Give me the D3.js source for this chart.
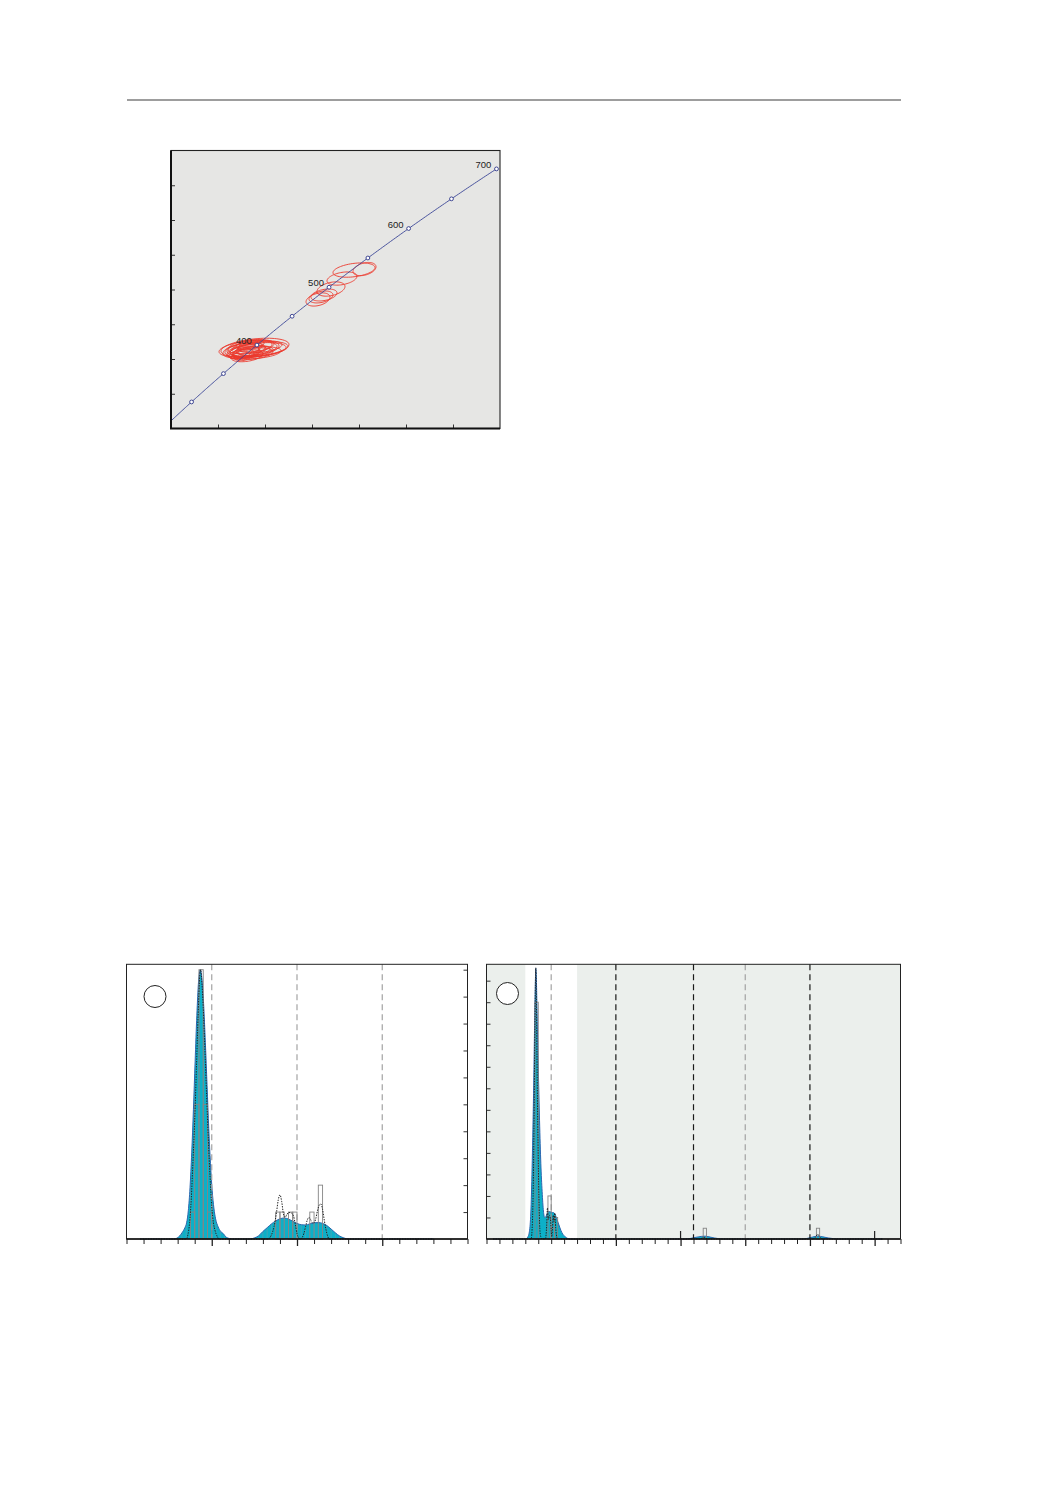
<!DOCTYPE html>
<html><head><meta charset="utf-8">
<script src="https://cdn.jsdelivr.net/npm/d3@7"></script>
<style>body{margin:0;background:#fff}svg{display:block}</style>
</head><body>
<svg id="c" width="1052" height="1485"></svg>
<script>
// ---------- Concordia data ----------
const concordiaMarkerAges = [300, 350, 400, 450, 500, 550, 600, 650, 700];
const concordiaLabelAges = [400, 500, 600, 700];
const concordiaXTicks = [0.4, 0.5, 0.6, 0.7, 0.8, 0.9];
const concordiaYTicks = [0.05, 0.06, 0.07, 0.08, 0.09, 0.10, 0.11];
// 207Pb/235U, 206Pb/238U, half-axes, correlation
const ellX  = [0.4787,0.4681,0.4723,0.4574,0.4638,0.4532,0.4809,0.4894,0.4468,0.4617,0.4745,0.4851,0.4553,0.4681,0.4936,0.4596,0.4660,0.4766,0.4489,0.4702,0.4830,0.4617,
               0.6894,0.7117,0.6638,0.6404,0.6255,0.6128,0.6191];
const ellY  = [0.06323,0.06351,0.06294,0.06265,0.06237,0.06208,0.06380,0.06351,0.06179,0.06323,0.06208,0.06265,0.06122,0.06409,0.06294,0.06179,0.06294,0.06237,0.06237,0.06151,0.06179,0.06093,
               0.08559,0.08588,0.08315,0.08014,0.07842,0.07713,0.07785];
const ellSX = [0.0723,0.0468,0.0532,0.0426,0.0383,0.0340,0.0383,0.0468,0.0255,0.0319,0.0426,0.0596,0.0213,0.0298,0.0553,0.0298,0.0638,0.0340,0.0383,0.0468,0.0511,0.0340,
               0.0447,0.0245,0.0319,0.0298,0.0277,0.0255,0.0255];
const ellSY = [0.00275,0.00206,0.00206,0.00206,0.00172,0.00206,0.00172,0.00172,0.00172,0.00172,0.00172,0.00206,0.00172,0.00138,0.00206,0.00172,0.00241,0.00138,0.00206,0.00172,0.00172,0.00172,
               0.00206,0.0019,0.0019,0.00206,0.00172,0.0019,0.00172];
const ellRho = 0.35;

// ---------- Left density panel (300–700 Ma) ----------
const leftXTicks = [300,320,340,360,380,400,420,440,460,480,500,520,540,560,580,600,620,640,660,680,700];
const leftYTicks = [1,2,3,4,5,6,7,8,9,10];
const leftDashed = [400, 500, 600];
const leftKdeAge = [316,356.5,359.5,362.5,365.5,368.5,370.5,372.5,374.5,376.5,378.5,380.5,382.5,384.5,386.5,388.5,390.5,392.5,394.5,396.5,398.5,400.5,402.5,404.5,407.5,410.5,413.5,416.5,420.5,424.5,
                    445,450,455,460,465,470,475,480,485,490,495,500,505,510,515,520,525,530,535,540,545,550,555,560,660];
const leftKdeVal = [0,0,0.04,0.12,0.25,0.42,0.6,1.05,1.9,3.2,4.8,6.6,8.3,9.55,10,9.65,8.7,7.3,5.7,4.1,2.8,1.8,1.15,0.75,0.45,0.28,0.2,0.08,0.02,0,
                    0,0.04,0.12,0.28,0.42,0.56,0.67,0.75,0.78,0.74,0.66,0.58,0.53,0.52,0.56,0.6,0.61,0.58,0.5,0.37,0.23,0.11,0.04,0,0];
const leftPdpAge = [316,370,372,374,376,378,380,382,384,386,387,388,390,392,394,396,398,400,402,404,406,409,
                    466,470,473,476,478,480,482,484,486,488,490,492,494,496,498,500,502,504,506,508,510,512,514,516,518,520,522,524,526,528,530,532,534,536,538,660];
const leftPdpVal = [0,0,0.15,0.6,1.5,2.9,4.4,6.3,8.3,9.8,10,9.7,8.6,7.0,5.3,3.7,2.3,1.2,0.6,0.3,0.12,0,
                    0,0.15,0.45,1.0,1.45,1.64,1.4,0.95,0.8,0.9,0.98,0.98,0.95,0.85,0.55,0.2,0.04,0,0.05,0.2,0.45,0.7,0.8,0.72,0.6,0.6,0.75,1.05,1.25,1.3,1.1,0.7,0.35,0.1,0,0];
const leftBinStart = [375,380,385,390,395,475,480,490,495,515,525];
const leftBinCount = [1,5,10,5,1,1,1,1,1,1,2];
const leftBinWidth = 5;

// ---------- Right density panel (0–3200 Ma) ----------
const rightXTicks = d3.range(0, 3201, 100);
const rightMajorTicks = [1000, 1500, 2000, 2500, 3000];
const rightUpTicks = [1500, 3000];
const rightYTicks = [2,4,6,8,10,12,14,16,18,20,22,24];
const rightDashedGray = [500, 2000];
const rightDashedBlack = [1000, 1600, 2500];
const rightWindow = [300, 700];
const rightKdeAge = [50,300,320,335,345,355,365,372,378,381,385,390,400,410,420,430,440,450,460,470,480,490,500,510,520,530,545,560,575,590,605,620,640,
                     1540,1580,1620,1660,1690,1720,1760,1800,1830,2440,2480,2520,2560,2600,2640,2690,2720,3060];
const rightKdeVal = [0,0,0.2,1.0,3.2,8.0,14.4,20.0,24.0,25.14,24.4,21.6,16.0,11.0,7.0,4.4,2.6,2.0,2.1,2.4,2.54,2.54,2.5,2.46,2.44,2.3,1.8,1.3,0.8,0.44,0.24,0.1,0,
                     0,0.06,0.16,0.24,0.26,0.2,0.1,0.02,0,0,0.06,0.18,0.26,0.2,0.1,0.02,0,0];
const rightPdpAge = [50,345,355,365,372,378,381,385,390,398,405,412,420,430,455,465,471,478,485,492,500,505,510,516,522,528,535,545,550,
                     1650,1680,1710,2520,2545,2560,2575,2600,3060];
const rightPdpVal = [0,0,1.6,8.0,17.0,23.6,25.2,23.0,17.0,9.0,4.0,1.0,0.2,0,0,1.2,2.9,1.8,2.2,2.1,0.8,0.2,1.0,2.2,1.6,2.4,1.0,0.1,0,
                     0,0.16,0,0,0.2,0.44,0.2,0,0];
const rightBinStart = [375,475,500,525,1675,2550];
const rightBinCount = [22,4,1,2,1,1];
const rightBinWidth = 25;

// ---------- drawing ----------
const svg = d3.select('#c');
const defs = svg.append('defs');
const FONT = "'Liberation Sans', Arial, sans-serif";
const FILL = '#0cb0c8', LINE = '#2c67b0';

svg.append('line').attr('x1',127).attr('x2',901).attr('y1',100).attr('y2',100)
  .attr('stroke','#7d7d7d').attr('stroke-width',1.6);

// ===== Concordia =====
const cxS = d3.scaleLinear().domain([0.3,1.0]).range([171,500]);
const cyS = d3.scaleLinear().domain([0.04,0.12]).range([428.5,150.5]);
const L238 = 1.55125e-10, L235 = 9.8485e-10;
const conc = t => [Math.expm1(L235*t*1e6), Math.expm1(L238*t*1e6)];
const gC = svg.append('g');
gC.append('rect').attr('x',cxS(0.3)).attr('y',cyS(0.12)).attr('width',cxS(1)-cxS(0.3)).attr('height',cyS(0.04)-cyS(0.12)).attr('fill','#e6e6e4');
defs.append('clipPath').attr('id','cclip').append('rect')
  .attr('x',cxS(0.3)).attr('y',cyS(0.12)).attr('width',cxS(1)-cxS(0.3)).attr('height',cyS(0.04)-cyS(0.12));
const ellG = gC.append('g').attr('clip-path','url(#cclip)');
const s = Math.sqrt(1-ellRho*ellRho);
ellG.selectAll('path').data(d3.range(ellX.length)).join('path')
  .attr('d', i => d3.line()(d3.range(0, 72).map(k => {
      const t = k/72*2*Math.PI;
      return [cxS(ellX[i] + ellSX[i]*Math.cos(t)), cyS(ellY[i] + ellSY[i]*(ellRho*Math.cos(t) + s*Math.sin(t)))];
    })) + 'Z')
  .attr('fill','none').attr('stroke','#ec3a2e').attr('stroke-width',0.9);
const curveAges = d3.range(266, 700.01, 2);
ellG.append('path').datum(curveAges)
  .attr('d', d3.line().x(t => cxS(conc(t)[0])).y(t => cyS(conc(t)[1])))
  .attr('fill','none').attr('stroke','#3a4596').attr('stroke-width',0.9);
gC.selectAll('circle.m').data(concordiaMarkerAges).join('circle').attr('class','m')
  .attr('cx', t => cxS(conc(t)[0])).attr('cy', t => cyS(conc(t)[1])).attr('r',1.9)
  .attr('fill','#fff').attr('stroke','#2c3588').attr('stroke-width',0.9);
gC.selectAll('text').data(concordiaLabelAges).join('text')
  .attr('x', t => cxS(conc(t)[0]) - 13).attr('y', t => cyS(conc(t)[1]) - 1)
  .attr('text-anchor','middle').attr('font-family',FONT).attr('font-size',9.5).attr('fill','#222')
  .text(t => t);
const axB = gC.append('g').attr('transform',`translate(0,${cyS(0.04)})`)
  .call(d3.axisBottom(cxS).tickValues(concordiaXTicks).tickSize(-4).tickFormat(''));
const axL = gC.append('g').attr('transform',`translate(${cxS(0.3)},0)`)
  .call(d3.axisLeft(cyS).tickValues(concordiaYTicks).tickSize(-4).tickFormat(''));
[axB, axL].forEach(a => { a.select('.domain').remove(); a.selectAll('line').attr('stroke','#333'); });
gC.append('rect').attr('x',cxS(0.3)).attr('y',cyS(0.12)).attr('width',cxS(1)-cxS(0.3)).attr('height',cyS(0.04)-cyS(0.12))
  .attr('fill','none').attr('stroke','#222').attr('stroke-width',1.1);
gC.append('path').attr('d',`M${cxS(0.3)},${cyS(0.12)}V${cyS(0.04)}H${cxS(1)}`)
  .attr('fill','none').attr('stroke','#111').attr('stroke-width',2);

// ===== density panels =====
function panel(o) {
  const g = svg.append('g');
  const [x0, x1] = o.x.range(), [yb, yt] = o.y.range();
  if (o.bg) g.append('rect').attr('x',x0).attr('y',yt).attr('width',x1-x0).attr('height',yb-yt).attr('fill',o.bg);
  if (o.window) g.append('rect').attr('x',o.x(o.window[0])).attr('y',yt).attr('width',o.x(o.window[1])-o.x(o.window[0])).attr('height',yb-yt).attr('fill','#fff');
  const area = d3.area().x((d,i) => o.x(o.kdeAge[i])).y0(yb).y1((d,i) => o.y(o.kdeVal[i])).curve(d3.curveMonotoneX);
  g.append('path').datum(o.kdeVal).attr('d', area).attr('fill', FILL);
  if (o.stripes) {
    const id = 'clip' + o.id;
    defs.append('clipPath').attr('id', id).append('path').datum(o.kdeVal).attr('d', area);
    g.append('g').attr('clip-path',`url(#${id})`).selectAll('line').data(o.stripes).join('line')
      .attr('x1', d => o.x(d)).attr('x2', d => o.x(d)).attr('y1', yt).attr('y2', yb)
      .attr('stroke','#6f9ea8').attr('stroke-width',0.7).attr('opacity',0.75);
  }
  g.append('path').datum(o.kdeVal)
    .attr('d', d3.line().x((d,i) => o.x(o.kdeAge[i])).y(d => o.y(d)).curve(d3.curveMonotoneX))
    .attr('fill','none').attr('stroke', LINE).attr('stroke-width',1);
  o.dashed.forEach(dd => {
    g.selectAll(null).data(dd.values).join('line')
      .attr('x1', d => o.x(d)).attr('x2', d => o.x(d)).attr('y1', yt).attr('y2', yb)
      .attr('stroke', dd.color).attr('stroke-width',1.2).attr('stroke-dasharray','6,4');
  });
  g.selectAll(null).data(o.binStart).join('rect')
    .attr('x', d => o.x(d)).attr('width', d => o.x(d + o.binWidth) - o.x(d))
    .attr('y', (d,i) => o.y(o.binCount[i]*o.binUnit)).attr('height', (d,i) => yb - o.y(o.binCount[i]*o.binUnit))
    .attr('fill','none').attr('stroke','#858585').attr('stroke-width',0.9);
  g.append('path').datum(o.pdpVal)
    .attr('d', d3.line().x((d,i) => o.x(o.pdpAge[i])).y(d => o.y(d)).curve(d3.curveMonotoneX))
    .attr('fill','none').attr('stroke','#222').attr('stroke-width',1).attr('stroke-dasharray','1.4,1.2');
  // bottom axis
  const ax = g.append('g').attr('transform',`translate(0,${yb})`)
    .call(d3.axisBottom(o.x).tickValues(o.xTicks).tickSize(5).tickFormat(''));
  ax.select('.domain').remove();
  ax.selectAll('line').attr('stroke','#222').attr('stroke-width',1);
  ax.selectAll('.tick').filter(d => o.major.includes(d)).select('line').attr('y2',7).attr('stroke-width',1.3);
  g.selectAll(null).data(o.upTicks || []).join('line')
    .attr('x1', d => o.x(d)).attr('x2', d => o.x(d)).attr('y1', yb - 8).attr('y2', yb)
    .attr('stroke','#222').attr('stroke-width',1.2);
  // y axis (inward ticks)
  const yAx = o.ySide === 'right'
    ? d3.axisRight(o.y).tickValues(o.yTicks).tickSize(-4).tickFormat('')
    : d3.axisLeft(o.y).tickValues(o.yTicks).tickSize(-4).tickFormat('');
  const ya = g.append('g').attr('transform',`translate(${o.ySide === 'right' ? x1 : x0},0)`).call(yAx);
  ya.select('.domain').remove();
  ya.selectAll('line').attr('stroke','#333');
  // frame
  g.append('rect').attr('x',x0).attr('y',yt).attr('width',x1-x0).attr('height',yb-yt)
    .attr('fill','none').attr('stroke','#222').attr('stroke-width',1);
  g.append('line').attr('x1',x0).attr('x2',x1).attr('y1',yb).attr('y2',yb).attr('stroke','#111').attr('stroke-width',1.4);
  g.append('circle').attr('cx',o.circle[0]).attr('cy',o.circle[1]).attr('r',11)
    .attr('fill','#fff').attr('stroke','#222').attr('stroke-width',1);
}

const xL = d3.scaleLinear().domain([300,700]).range([126.5,467.5]);
const yL = d3.scaleLinear().domain([0,10.2]).range([1239,964.3]);
panel({id:'L', x:xL, y:yL, kdeAge:leftKdeAge, kdeVal:leftKdeVal, pdpAge:leftPdpAge, pdpVal:leftPdpVal,
  binStart:leftBinStart, binCount:leftBinCount, binWidth:leftBinWidth, binUnit:1,
  dashed:[{values:leftDashed, color:'#a3a3a3'}], xTicks:leftXTicks, major:leftDashed, yTicks:leftYTicks, ySide:'right',
  stripes:d3.range(355, 561, 5), circle:[155,996.5]});

const xR = d3.scaleLinear().domain([0,3200]).range([486.5,900.5]);
const yR = d3.scaleLinear().domain([0,25.52]).range([1239,964.3]);
panel({id:'R', x:xR, y:yR, kdeAge:rightKdeAge, kdeVal:rightKdeVal, pdpAge:rightPdpAge, pdpVal:rightPdpVal,
  binStart:rightBinStart, binCount:rightBinCount, binWidth:rightBinWidth, binUnit:1,
  dashed:[{values:rightDashedGray, color:'#a3a3a3'},{values:rightDashedBlack, color:'#1a1a1a'}],
  xTicks:rightXTicks, major:rightMajorTicks, upTicks:rightUpTicks, yTicks:rightYTicks, ySide:'left',
  bg:'#ebefec', window:rightWindow, circle:[507.5,993.5]});
</script>
</body></html>
